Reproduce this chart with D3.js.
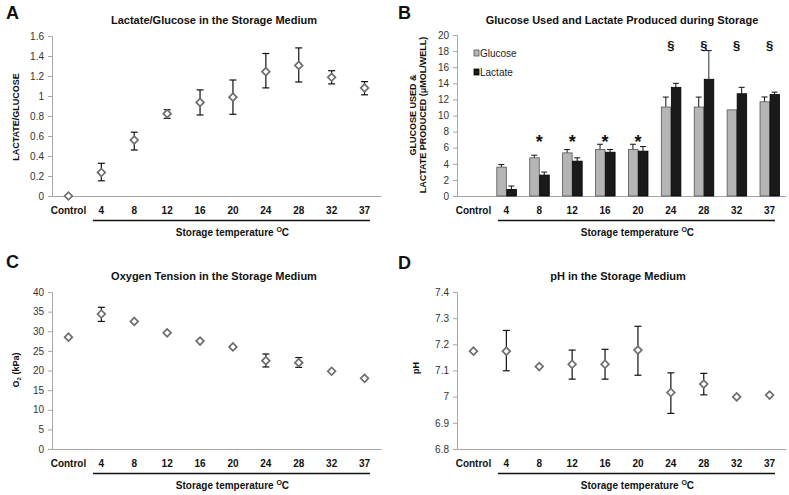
<!DOCTYPE html>
<html>
<head>
<meta charset="utf-8">
<script src="https://cdn.jsdelivr.net/npm/d3@7"></script>
<style>
  html, body { margin: 0; padding: 0; background: #fff; }
  svg { display: block; font-family: "Liberation Sans", Arial, sans-serif; }
</style>
</head>
<body>
<svg id="chart" width="789" height="495"></svg>
<script>
// ---------- data ----------
const categories = ["Control", "4", "8", "12", "16", "20", "24", "28", "32", "37"];

// A: Lactate/Glucose ratio
const ratioMean = [0, 0.235, 0.559, 0.823, 0.936, 0.988, 1.243, 1.306, 1.187, 1.081];
const ratioLow  = [null, 0.152, 0.46, 0.777, 0.81, 0.817, 1.081, 1.14, 1.121, 1.012];
const ratioHigh = [null, 0.327, 0.638, 0.863, 1.061, 1.16, 1.425, 1.481, 1.253, 1.144];
const ratioTicks = [0, 0.2, 0.4, 0.6, 0.8, 1, 1.2, 1.4, 1.6];

// B: Glucose used / Lactate produced (µmol/well)
const seriesNames = ["Glucose", "Lactate"];
const glucoseUsed   = [0, 3.59, 4.74, 5.36, 5.77, 5.77, 11.05, 11.05, 10.7, 11.7];
const glucoseErrTop = [null, 3.9, 5.07, 5.77, 6.43, 6.43, 12.29, 12.29, null, 12.3];
const lactateProd   = [0, 0.82, 2.6, 4.33, 5.44, 5.57, 13.5, 14.5, 12.7, 12.6];
const lactateErrTop = [null, 1.24, 2.97, 4.74, 5.77, 6.14, 14.0, 18.06, 13.5, 12.9];
const sigMarks  = ["", "", "*", "*", "*", "*", "§", "§", "§", "§"];
const sigLevels = [null, null, 7.2, 7.2, 7.2, 7.2, 18.75, 18.75, 18.75, 18.75];
const bTicks = [0, 2, 4, 6, 8, 10, 12, 14, 16, 18, 20];

// C: Oxygen tension (kPa)
const o2Mean = [28.5, 34.4, 32.5, 29.6, 27.5, 26.0, 22.5, 22.0, 19.8, 18.0];
const o2Low  = [null, 32.5, null, null, null, null, 20.9, 20.8, null, null];
const o2High = [null, 36.1, null, null, null, null, 24.2, 23.3, null, null];
const o2Ticks = [0, 5, 10, 15, 20, 25, 30, 35, 40];

// D: pH
const phMean = [7.174, 7.174, 7.115, 7.124, 7.124, 7.178, 7.016, 7.048, 6.999, 7.006];
const phLow  = [null, 7.099, null, 7.067, 7.067, 7.082, 6.936, 7.007, null, null];
const phHigh = [null, 7.253, null, 7.178, 7.181, 7.269, 7.091, 7.089, null, null];
const phTicks = [6.8, 6.9, 7, 7.1, 7.2, 7.3, 7.4];

// ---------- drawing ----------
const svg = d3.select("#chart");
const AXIS_GRAY = "#a6a6a6";

function fmt(v) { return String(+v.toFixed(2)); }

function panelFrame(opt) {
  const g = svg.append("g");
  const x = d3.scaleBand().domain(categories).range([opt.x0, opt.x1]);
  const y = d3.scaleLinear().domain(opt.yDomain).range([opt.yBottom, opt.yTop]);

  g.append("text").attr("x", opt.letterX).attr("y", opt.letterY)
    .attr("font-size", 18).attr("font-weight", "bold").attr("fill", "#111").text(opt.letter);
  g.append("text").attr("x", opt.titleX).attr("y", opt.titleY)
    .attr("text-anchor", "middle").attr("font-size", 11).attr("font-weight", "bold")
    .attr("fill", "#111").text(opt.title);

  const ya = g.append("g").attr("transform", `translate(${opt.x0},0)`)
    .call(d3.axisLeft(y).tickValues(opt.ticks).tickFormat(fmt).tickSize(4).tickPadding(4));
  ya.selectAll("path, line").attr("stroke", AXIS_GRAY);
  ya.selectAll("text").attr("font-size", 10).attr("fill", "#333")
    .attr("font-family", "Liberation Sans, Arial, sans-serif");

  const xa = g.append("g").attr("transform", `translate(0,${opt.yBottom})`)
    .call(d3.axisBottom(x).tickSize(0).tickPadding(10.5));
  xa.select(".domain").attr("stroke", AXIS_GRAY);
  xa.selectAll("text").attr("font-size", 10).attr("font-weight", "bold").attr("fill", "#111")
    .attr("font-family", "Liberation Sans, Arial, sans-serif");

  g.append("line")
    .attr("x1", x("4") + 8).attr("x2", x.range()[1] - 11)
    .attr("y1", opt.yBottom + 24.5).attr("y2", opt.yBottom + 24.5)
    .attr("stroke", "#111").attr("stroke-width", 1.3);
  const xt = g.append("text")
    .attr("x", (x("4") + 8 + x.range()[1] - 11) / 2 + 1).attr("y", opt.yBottom + 40)
    .attr("text-anchor", "middle").attr("font-size", 10).attr("font-weight", "bold").attr("fill", "#111");
  xt.append("tspan").text("Storage temperature ");
  xt.append("tspan").attr("font-size", 7).attr("dy", -4).text("O");
  xt.append("tspan").attr("dy", 4).text("C");

  const yt = g.append("text")
    .attr("transform", `translate(${opt.yTitleX},${opt.yTitleY}) rotate(-90)`)
    .attr("text-anchor", "middle").attr("font-size", 9).attr("font-weight", "bold").attr("fill", "#111");
  opt.yTitle(yt);

  return { g, x, y };
}

function drawPoints(p, mean, low, high) {
  const { g, x, y } = p;
  const bw = x.bandwidth();
  const data = categories.map((c, i) => ({ c, m: mean[i], lo: low[i], hi: high[i] }));
  const eb = g.append("g").attr("stroke", "#111").attr("stroke-width", 1.2);
  data.filter(d => d.lo != null).forEach(d => {
    const cx = x(d.c) + bw / 2;
    eb.append("line").attr("x1", cx).attr("x2", cx).attr("y1", y(d.lo)).attr("y2", y(d.hi));
    eb.append("line").attr("x1", cx - 3.5).attr("x2", cx + 3.5).attr("y1", y(d.lo)).attr("y2", y(d.lo));
    eb.append("line").attr("x1", cx - 3.5).attr("x2", cx + 3.5).attr("y1", y(d.hi)).attr("y2", y(d.hi));
  });
  g.append("g").selectAll("path").data(data).join("path")
    .attr("d", d3.symbol(d3.symbolSquare, 30)())
    .attr("transform", d => `translate(${x(d.c) + bw / 2},${y(d.m)}) rotate(45)`)
    .attr("fill", "#fff").attr("stroke", "#6e6e6e").attr("stroke-width", 1.7);
}

// ----- Panel A -----
const pA = panelFrame({
  letter: "A", letterX: 6, letterY: 19,
  title: "Lactate/Glucose in the Storage Medium", titleX: 214, titleY: 24,
  x0: 52, x1: 381, yTop: 36, yBottom: 196, yDomain: [0, 1.6], ticks: ratioTicks,
  yTitleX: 19, yTitleY: 117,
  yTitle: t => t.text("LACTATE/GLUCOSE")
});
drawPoints(pA, ratioMean, ratioLow, ratioHigh);

// ----- Panel B -----
const pB = panelFrame({
  letter: "B", letterX: 398, letterY: 19,
  title: "Glucose Used and Lactate Produced during Storage", titleX: 622, titleY: 24,
  x0: 457, x1: 786, yTop: 35, yBottom: 196, yDomain: [0, 20], ticks: bTicks,
  yTitleX: 417, yTitleY: 115,
  yTitle: t => {
    t.append("tspan").attr("x", 0).attr("dy", -1).text("GLUCOSE USED &");
    t.append("tspan").attr("x", 0).attr("dy", 10).text("LACTATE PRODUCED (\u03BCMOL/WELL)");
  }
});
(function () {
  const { g, x, y } = pB;
  const bw = x.bandwidth();
  const xs = d3.scaleBand().domain(seriesNames).range([0, bw]).paddingInner(0).paddingOuter(0.64);
  const fills = { Glucose: "#b5b5b5", Lactate: "#1a1a1a" };
  const strokes = { Glucose: "#555", Lactate: "#000" };
  const rows = [];
  categories.forEach((c, i) => {
    rows.push({ c, s: "Glucose", v: glucoseUsed[i], e: glucoseErrTop[i] });
    rows.push({ c, s: "Lactate", v: lactateProd[i], e: lactateErrTop[i] });
  });
  const bars = rows.filter(d => d.v > 0);
  const eb = g.append("g").attr("stroke", "#111").attr("stroke-width", 1);
  bars.filter(d => d.e != null).forEach(d => {
    const cx = x(d.c) + xs(d.s) + xs.bandwidth() / 2;
    eb.append("line").attr("x1", cx).attr("x2", cx).attr("y1", y(d.v)).attr("y2", y(d.e))
      .attr("stroke", d.s === "Lactate" && d.e - d.v > 2 ? "#666" : "#111");
    eb.append("line").attr("x1", cx - 3).attr("x2", cx + 3).attr("y1", y(d.e)).attr("y2", y(d.e));
  });
  g.append("g").selectAll("rect").data(bars).join("rect")
    .attr("x", d => x(d.c) + xs(d.s) + 0.5)
    .attr("width", xs.bandwidth() - 0.5)
    .attr("y", d => y(d.v))
    .attr("height", d => y(0) - y(d.v))
    .attr("fill", d => fills[d.s]).attr("stroke", d => strokes[d.s]).attr("stroke-width", 0.8);
  g.append("g").attr("stroke", "#666").attr("stroke-width", 1)
    .selectAll("line").data(bars.filter(d => d.e != null && d.s === "Lactate" && d.e - d.v > 2)).join("line")
    .attr("x1", d => x(d.c) + xs(d.s) + xs.bandwidth() / 2)
    .attr("x2", d => x(d.c) + xs(d.s) + xs.bandwidth() / 2)
    .attr("y1", d => y(d.v)).attr("y2", d => y(d.e));
  g.append("g").selectAll("text").data(categories.map((c, i) => ({ c, m: sigMarks[i], l: sigLevels[i] })).filter(d => d.m))
    .join("text")
    .attr("x", d => x(d.c) + bw / 2)
    .attr("y", d => y(d.l))
    .attr("dy", d => d.m === "*" ? "0.58em" : "0.38em")
    .attr("text-anchor", "middle").attr("font-weight", "bold")
    .attr("font-size", d => d.m === "*" ? 18 : 13).attr("fill", "#111")
    .text(d => d.m);
  const lg = g.append("g");
  seriesNames.forEach((s, i) => {
    lg.append("rect").attr("x", 474).attr("y", 50 + i * 19).attr("width", 5).attr("height", 6)
      .attr("fill", fills[s]).attr("stroke", strokes[s]).attr("stroke-width", 0.8);
    lg.append("text").attr("x", 480).attr("y", 57 + i * 19).attr("font-size", 10)
      .attr("fill", "#222").text(s);
  });
})();

// ----- Panel C -----
const pC = panelFrame({
  letter: "C", letterX: 6, letterY: 268,
  title: "Oxygen Tension in the Storage Medium", titleX: 214, titleY: 280,
  x0: 52, x1: 381, yTop: 292, yBottom: 449, yDomain: [0, 40], ticks: o2Ticks,
  yTitleX: 19, yTitleY: 370,
  yTitle: t => {
    t.append("tspan").text("O");
    t.append("tspan").attr("font-size", 6).attr("dy", 2).text("2");
    t.append("tspan").attr("dy", -2).text(" (kPa)");
  }
});
drawPoints(pC, o2Mean, o2Low, o2High);

// ----- Panel D -----
const pD = panelFrame({
  letter: "D", letterX: 398, letterY: 269,
  title: "pH in the Storage Medium", titleX: 618, titleY: 280,
  x0: 457, x1: 786, yTop: 292, yBottom: 449, yDomain: [6.8, 7.4], ticks: phTicks,
  yTitleX: 419, yTitleY: 368,
  yTitle: t => t.text("pH")
});
drawPoints(pD, phMean, phLow, phHigh);
</script>
</body>
</html>
